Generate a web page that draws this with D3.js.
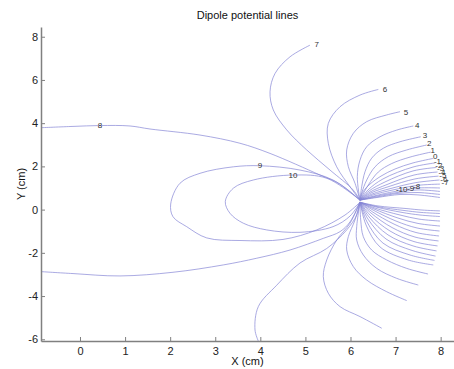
<!DOCTYPE html>
<html>
<head>
<meta charset="utf-8">
<script src="https://cdn.jsdelivr.net/npm/d3@7"></script>
<style>
  body { margin: 0; background: #fff; }
  text { font-family: "Liberation Sans", Arial, sans-serif; }
</style>
</head>
<body>
<svg id="chart" width="454" height="369"></svg>
<script>
// axis ticks
const xTicks = [0, 1, 2, 3, 4, 5, 6, 7, 8];
const yTicks = [-6, -4, -2, 0, 2, 4, 6, 8];

// contour levels, upper half (each runs out of the top charge)
const upperLines = [
  [8, [[-0.865, 3.79], [-0.155, 3.85], [0.444, 3.89], [1.109, 3.87], [1.553, 3.73], [2.662, 3.45], [3.549, 3.07], [4.215, 2.60], [5.324, 1.60], [5.768, 1.18], [6.21, 0.44]]],
  [7, [[5.102, 7.61], [4.658, 7.07], [4.326, 6.30], [4.215, 5.45], [4.288, 4.61], [4.585, 3.69], [5.029, 2.76], [5.546, 1.83], [6.063, 0.90], [6.21, 0.44]]],
  [6, [[6.617, 5.56], [6.211, 5.30], [5.768, 4.76], [5.508, 3.99], [5.508, 3.07], [5.694, 1.98], [5.989, 1.06], [6.21, 0.44]]],
  [5, [[7.098, 4.53], [6.803, 4.38], [6.360, 4.07], [6.063, 3.53], [5.916, 2.76], [5.952, 1.99], [6.100, 1.22], [6.21, 0.44]]],
  [4, [[7.393, 3.87], [7.025, 3.68], [6.655, 3.37], [6.360, 2.91], [6.211, 2.29], [6.151, 1.52], [6.21, 0.44]]],
  [3, [[7.558, 3.37], [7.098, 3.14], [6.728, 2.84], [6.470, 2.38], [6.322, 1.75], [6.249, 1.06], [6.21, 0.44]]],
  [2, [[7.691, 2.99], [7.247, 2.76], [6.839, 2.45], [6.544, 1.98], [6.360, 1.37], [6.249, 0.77], [6.21, 0.44]]],
  [1, [[7.780, 2.66], [7.320, 2.43], [6.914, 2.13], [6.617, 1.74], [6.395, 1.14], [6.21, 0.44]]],
  [0, [[7.837, 2.37], [7.387, 2.16], [6.988, 1.88], [6.677, 1.55], [6.433, 1.18], [6.289, 0.86], [6.21, 0.44]]],
  [-1, [[7.875, 2.16], [7.387, 1.97], [6.721, 1.42], [6.389, 0.91], [6.21, 0.44]]],
  [-2, [[7.908, 1.95], [7.387, 1.79], [6.766, 1.28], [6.411, 0.86], [6.21, 0.44]]],
  [-3, [[7.930, 1.74], [7.409, 1.60], [6.810, 1.16], [6.433, 0.81], [6.21, 0.44]]],
  [-4, [[7.953, 1.55], [7.431, 1.42], [6.854, 1.07], [6.455, 0.77], [6.21, 0.44]]],
  [-5, [[7.975, 1.37], [7.453, 1.25], [6.899, 0.98], [6.477, 0.72], [6.21, 0.44]]],
  [-6, [[7.986, 1.18], [7.476, 1.12], [6.943, 0.91], [6.500, 0.68], [6.21, 0.44]]],
  [-7, [[7.986, 1.00], [7.498, 1.00], [6.988, 0.84], [6.522, 0.63], [6.21, 0.44]]],
  [-8, [[7.986, 0.84], [7.498, 0.91], [7.032, 0.79], [6.544, 0.61], [6.21, 0.44]]],
  [-9, [[7.986, 0.70], [7.498, 0.79], [7.054, 0.75], [6.566, 0.58], [6.21, 0.44]]],
  [-10, [[7.986, 0.56], [7.498, 0.68], [7.098, 0.70], [6.588, 0.56], [6.21, 0.44]]]
];

// contour levels, lower half (each runs out of the bottom charge)
const lowerLines = [
  [8, [[-0.865, -2.87], [-0.155, -2.96], [0.887, -3.07], [2.063, -2.90], [3.179, -2.56], [3.920, -2.25], [4.658, -1.87], [5.397, -1.33], [5.768, -1.02], [5.989, -0.57], [6.21, 0.34]]],
  [7, [[3.955, -6.08], [3.882, -5.57], [3.955, -4.49], [4.363, -3.50], [4.880, -2.47], [5.473, -1.80], [5.916, -0.94], [6.138, -0.25], [6.21, 0.34]]],
  [6, [[6.693, -5.49], [6.211, -4.95], [5.768, -4.49], [5.508, -3.87], [5.397, -3.10], [5.473, -2.33], [5.694, -1.41], [5.989, -0.63], [6.21, 0.34]]],
  [5, [[7.247, -4.21], [6.803, -3.80], [6.360, -3.26], [6.063, -2.64], [5.916, -1.87], [5.952, -1.25], [6.100, -0.48], [6.21, 0.34]]],
  [4, [[7.504, -3.49], [7.025, -3.18], [6.582, -2.72], [6.284, -2.10], [6.138, -1.41], [6.138, -0.79], [6.21, 0.34]]],
  [3, [[7.720, -2.98], [7.247, -2.72], [6.803, -2.33], [6.470, -1.87], [6.284, -1.25], [6.227, -0.48], [6.21, 0.34]]],
  [2, [[7.836, -2.56], [7.276, -2.33], [6.655, -1.73], [6.345, -0.71], [6.21, 0.34]]],
  [1, [[7.864, -2.35], [7.320, -2.10], [6.721, -1.55], [6.367, -0.57], [6.21, 0.34]]],
  [0, [[7.886, -2.15], [7.365, -1.89], [6.788, -1.36], [6.389, -0.44], [6.21, 0.34]]],
  [-1, [[7.908, -1.91], [7.387, -1.68], [6.832, -1.17], [6.411, -0.34], [6.21, 0.34]]],
  [-2, [[7.930, -1.68], [7.409, -1.48], [6.877, -0.99], [6.433, -0.25], [6.21, 0.34]]],
  [-3, [[7.953, -1.45], [7.431, -1.27], [6.921, -0.83], [6.455, -0.16], [6.21, 0.34]]],
  [-4, [[7.964, -1.22], [7.453, -1.06], [6.965, -0.67], [6.477, -0.09], [6.21, 0.34]]],
  [-5, [[7.975, -0.99], [7.476, -0.85], [7.010, -0.53], [6.500, -0.02], [6.21, 0.34]]],
  [-6, [[7.986, -0.76], [7.498, -0.64], [7.054, -0.39], [6.522, 0.03], [6.21, 0.34]]],
  [-7, [[7.986, -0.53], [7.520, -0.44], [7.098, -0.25], [6.544, 0.07], [6.21, 0.34]]],
  [-8, [[7.986, -0.32], [7.542, -0.25], [7.143, -0.13], [6.566, 0.12], [6.21, 0.34]]],
  [-9, [[7.986, -0.18], [7.565, -0.13], [7.187, -0.04], [6.588, 0.14], [6.21, 0.34]]],
  [-10, [[7.986, -0.06], [7.587, -0.02], [7.232, 0.05], [6.610, 0.17], [6.21, 0.34]]]
];

// closed levels looping from one charge round to the other
const loopLines = [
  [9, [[6.21, 0.44], [5.612, 1.37], [4.880, 1.83], [3.993, 2.03], [3.401, 1.98], [2.662, 1.68], [2.218, 1.22], [2.012, 0.26], [2.063, -0.33], [2.367, -0.79], [2.811, -1.31], [3.549, -1.43], [4.503, -1.38], [5.251, -0.94], [5.879, -0.25], [6.21, 0.34]]],
  [10, [[6.21, 0.44], [5.473, 1.45], [4.732, 1.60], [3.844, 1.37], [3.401, 0.99], [3.223, 0.37], [3.327, -0.17], [3.623, -0.63], [4.142, -0.94], [4.880, -1.05], [5.612, -0.79], [5.989, -0.30], [6.21, 0.34]]]
];

// contour label text and where it sits
const labelText = ["8", "7", "6", "5", "4", "3", "2", "1", "0", "-1", "-2", "-3", "-4", "-5", "-6", "-7", "-8", "-9", "-10", "9", "10"];
const labelPos = [
  [0.444, 3.91], [5.251, 7.66], [6.766, 5.57], [7.232, 4.53], [7.482, 3.91], [7.654, 3.45], [7.749, 3.07],
  [7.824, 2.76], [7.882, 2.45], [7.93, 2.25], [7.96, 2.06], [8.0, 1.90], [8.03, 1.74], [8.05, 1.58],
  [8.07, 1.42], [8.10, 1.25], [7.469, 1.105], [7.336, 1.013], [7.136, 0.939], [3.993, 2.063], [4.725, 1.60]
];

const svg = d3.select('#chart');
const width = 454, height = 369;
const margin = { top: 27, right: 0, bottom: 28, left: 41 };

const x = d3.scaleLinear().domain([-0.865, 8.296]).range([margin.left, width - margin.right]);
const y = d3.scaleLinear().domain([-6.08, 8.45]).range([height - margin.bottom, margin.top]);

svg.append('defs').append('clipPath').attr('id', 'plot-clip')
  .append('rect')
  .attr('x', margin.left).attr('y', margin.top)
  .attr('width', width - margin.left - margin.right)
  .attr('height', height - margin.top - margin.bottom);

const line = d3.line()
  .x(d => x(d[0]))
  .y(d => y(d[1]))
  .curve(d3.curveCatmullRom.alpha(0.5));

const lineColor = '#8585d6';
const allLines = upperLines.concat(lowerLines, loopLines);

svg.append('g')
  .attr('clip-path', 'url(#plot-clip)')
  .selectAll('path')
  .data(allLines)
  .enter()
  .append('path')
  .attr('class', 'contour')
  .attr('d', d => line(d[1]))
  .attr('fill', 'none')
  .attr('stroke', lineColor)
  .attr('stroke-width', 0.7);

// labels on the lines
svg.append('g')
  .selectAll('text')
  .data(labelText)
  .enter()
  .append('text')
  .attr('x', (d, i) => x(labelPos[i][0]))
  .attr('y', (d, i) => y(labelPos[i][1]))
  .attr('dy', '0.35em')
  .attr('text-anchor', 'middle')
  .style('font-size', '8px')
  .style('fill', '#333')
  .text(d => d);

// axes, ticks pointing inward like matlab
const axisColor = '#808080';

const xAxis = svg.append('g')
  .attr('transform', `translate(0,${height - margin.bottom})`)
  .call(d3.axisBottom(x).tickValues(xTicks).tickFormat(d => String(d))
    .tickSizeInner(-4).tickSizeOuter(0).tickPadding(6));

const yAxis = svg.append('g')
  .attr('transform', `translate(${margin.left},0)`)
  .call(d3.axisLeft(y).tickValues(yTicks).tickFormat(d => String(d))
    .tickSizeInner(-4).tickSizeOuter(0).tickPadding(3));

[xAxis, yAxis].forEach(g => {
  g.select('.domain').attr('stroke', axisColor).attr('stroke-width', 1.5);
  g.selectAll('.tick line').attr('stroke', axisColor);
  g.selectAll('.tick text')
    .style('font-size', '11px')
    .style('font-family', '"Liberation Sans", Arial, sans-serif')
    .attr('fill', '#222');
});

// title and axis labels
svg.append('text')
  .attr('x', (margin.left + width - margin.right) / 2)
  .attr('y', 19)
  .attr('text-anchor', 'middle')
  .style('font-size', '11px')
  .style('fill', '#111')
  .text('Dipole potential lines');

svg.append('text')
  .attr('x', (margin.left + width - margin.right) / 2)
  .attr('y', 365)
  .attr('text-anchor', 'middle')
  .style('font-size', '11px')
  .style('fill', '#111')
  .text('X (cm)');

svg.append('text')
  .attr('transform', `translate(25,${(margin.top + height - margin.bottom) / 2}) rotate(-90)`)
  .attr('text-anchor', 'middle')
  .style('font-size', '11px')
  .style('fill', '#111')
  .text('Y (cm)');
</script>
</body>
</html>
